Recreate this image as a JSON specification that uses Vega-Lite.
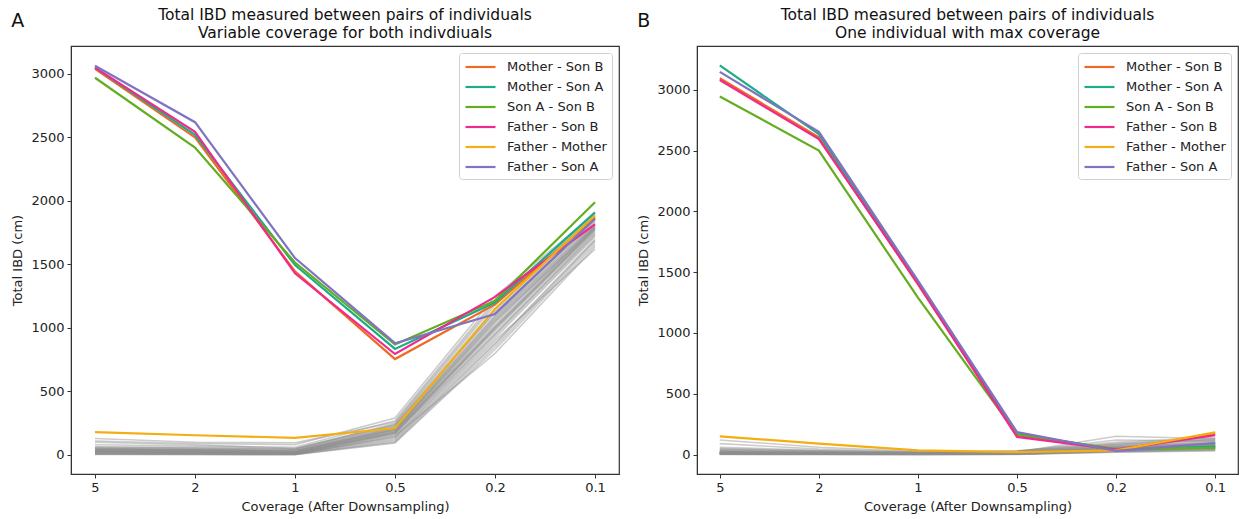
{
  "$schema": "https://vega.github.io/schema/vega-lite/v6.json",
  "padding": {"left": 11, "top": 6, "right": 2, "bottom": 2},
  "spacing": 17,
  "datasets": {
    "colA": [
      {"pair": "Mother - Son B", "c": "5", "v": 3040}, {"pair": "Mother - Son B", "c": "2", "v": 2500}, {"pair": "Mother - Son B", "c": "1", "v": 1445}, {"pair": "Mother - Son B", "c": "0.5", "v": 755}, {"pair": "Mother - Son B", "c": "0.2", "v": 1185}, {"pair": "Mother - Son B", "c": "0.1", "v": 1870},
      {"pair": "Mother - Son A", "c": "5", "v": 3050}, {"pair": "Mother - Son A", "c": "2", "v": 2520}, {"pair": "Mother - Son A", "c": "1", "v": 1495}, {"pair": "Mother - Son A", "c": "0.5", "v": 835}, {"pair": "Mother - Son A", "c": "0.2", "v": 1200}, {"pair": "Mother - Son A", "c": "0.1", "v": 1910},
      {"pair": "Son A - Son B", "c": "5", "v": 2970}, {"pair": "Son A - Son B", "c": "2", "v": 2420}, {"pair": "Son A - Son B", "c": "1", "v": 1515}, {"pair": "Son A - Son B", "c": "0.5", "v": 870}, {"pair": "Son A - Son B", "c": "0.2", "v": 1215}, {"pair": "Son A - Son B", "c": "0.1", "v": 1990},
      {"pair": "Father - Son B", "c": "5", "v": 3050}, {"pair": "Father - Son B", "c": "2", "v": 2545}, {"pair": "Father - Son B", "c": "1", "v": 1430}, {"pair": "Father - Son B", "c": "0.5", "v": 795}, {"pair": "Father - Son B", "c": "0.2", "v": 1245}, {"pair": "Father - Son B", "c": "0.1", "v": 1815},
      {"pair": "Father - Mother", "c": "5", "v": 180}, {"pair": "Father - Mother", "c": "2", "v": 155}, {"pair": "Father - Mother", "c": "1", "v": 135}, {"pair": "Father - Mother", "c": "0.5", "v": 210}, {"pair": "Father - Mother", "c": "0.2", "v": 1150}, {"pair": "Father - Mother", "c": "0.1", "v": 1885},
      {"pair": "Father - Son A", "c": "5", "v": 3065}, {"pair": "Father - Son A", "c": "2", "v": 2620}, {"pair": "Father - Son A", "c": "1", "v": 1550}, {"pair": "Father - Son A", "c": "0.5", "v": 880}, {"pair": "Father - Son A", "c": "0.2", "v": 1110}, {"pair": "Father - Son A", "c": "0.1", "v": 1860}
    ],
    "colB": [
      {"pair": "Mother - Son B", "c": "5", "v": 3095}, {"pair": "Mother - Son B", "c": "2", "v": 2608}, {"pair": "Mother - Son B", "c": "1", "v": 1400}, {"pair": "Mother - Son B", "c": "0.5", "v": 160}, {"pair": "Mother - Son B", "c": "0.2", "v": 35}, {"pair": "Mother - Son B", "c": "0.1", "v": 175},
      {"pair": "Mother - Son A", "c": "5", "v": 3200}, {"pair": "Mother - Son A", "c": "2", "v": 2635}, {"pair": "Mother - Son A", "c": "1", "v": 1420}, {"pair": "Mother - Son A", "c": "0.5", "v": 170}, {"pair": "Mother - Son A", "c": "0.2", "v": 40}, {"pair": "Mother - Son A", "c": "0.1", "v": 65},
      {"pair": "Son A - Son B", "c": "5", "v": 2945}, {"pair": "Son A - Son B", "c": "2", "v": 2500}, {"pair": "Son A - Son B", "c": "1", "v": 1290}, {"pair": "Son A - Son B", "c": "0.5", "v": 165}, {"pair": "Son A - Son B", "c": "0.2", "v": 45}, {"pair": "Son A - Son B", "c": "0.1", "v": 55},
      {"pair": "Father - Son B", "c": "5", "v": 3080}, {"pair": "Father - Son B", "c": "2", "v": 2594}, {"pair": "Father - Son B", "c": "1", "v": 1405}, {"pair": "Father - Son B", "c": "0.5", "v": 145}, {"pair": "Father - Son B", "c": "0.2", "v": 40}, {"pair": "Father - Son B", "c": "0.1", "v": 160},
      {"pair": "Father - Mother", "c": "5", "v": 150}, {"pair": "Father - Mother", "c": "2", "v": 90}, {"pair": "Father - Mother", "c": "1", "v": 35}, {"pair": "Father - Mother", "c": "0.5", "v": 20}, {"pair": "Father - Mother", "c": "0.2", "v": 35}, {"pair": "Father - Mother", "c": "0.1", "v": 182},
      {"pair": "Father - Son A", "c": "5", "v": 3147}, {"pair": "Father - Son A", "c": "2", "v": 2654}, {"pair": "Father - Son A", "c": "1", "v": 1430}, {"pair": "Father - Son A", "c": "0.5", "v": 185}, {"pair": "Father - Son A", "c": "0.2", "v": 30}, {"pair": "Father - Son A", "c": "0.1", "v": 95}
    ],
    "grayA": [
      {"s": "g1", "c": "5", "v": 10}, {"s": "g1", "c": "2", "v": 8}, {"s": "g1", "c": "1", "v": 5}, {"s": "g1", "c": "0.5", "v": 120}, {"s": "g1", "c": "0.2", "v": 880}, {"s": "g1", "c": "0.1", "v": 1700},
      {"s": "g2", "c": "5", "v": 15}, {"s": "g2", "c": "2", "v": 12}, {"s": "g2", "c": "1", "v": 8}, {"s": "g2", "c": "0.5", "v": 140}, {"s": "g2", "c": "0.2", "v": 920}, {"s": "g2", "c": "0.1", "v": 1720},
      {"s": "g3", "c": "5", "v": 20}, {"s": "g3", "c": "2", "v": 15}, {"s": "g3", "c": "1", "v": 10}, {"s": "g3", "c": "0.5", "v": 160}, {"s": "g3", "c": "0.2", "v": 950}, {"s": "g3", "c": "0.1", "v": 1750},
      {"s": "g4", "c": "5", "v": 25}, {"s": "g4", "c": "2", "v": 20}, {"s": "g4", "c": "1", "v": 12}, {"s": "g4", "c": "0.5", "v": 170}, {"s": "g4", "c": "0.2", "v": 980}, {"s": "g4", "c": "0.1", "v": 1760},
      {"s": "g5", "c": "5", "v": 30}, {"s": "g5", "c": "2", "v": 25}, {"s": "g5", "c": "1", "v": 15}, {"s": "g5", "c": "0.5", "v": 180}, {"s": "g5", "c": "0.2", "v": 1000}, {"s": "g5", "c": "0.1", "v": 1780},
      {"s": "g6", "c": "5", "v": 35}, {"s": "g6", "c": "2", "v": 30}, {"s": "g6", "c": "1", "v": 20}, {"s": "g6", "c": "0.5", "v": 190}, {"s": "g6", "c": "0.2", "v": 1020}, {"s": "g6", "c": "0.1", "v": 1790},
      {"s": "g7", "c": "5", "v": 40}, {"s": "g7", "c": "2", "v": 35}, {"s": "g7", "c": "1", "v": 25}, {"s": "g7", "c": "0.5", "v": 200}, {"s": "g7", "c": "0.2", "v": 1050}, {"s": "g7", "c": "0.1", "v": 1800},
      {"s": "g8", "c": "5", "v": 45}, {"s": "g8", "c": "2", "v": 40}, {"s": "g8", "c": "1", "v": 30}, {"s": "g8", "c": "0.5", "v": 210}, {"s": "g8", "c": "0.2", "v": 1080}, {"s": "g8", "c": "0.1", "v": 1810},
      {"s": "g9", "c": "5", "v": 50}, {"s": "g9", "c": "2", "v": 45}, {"s": "g9", "c": "1", "v": 35}, {"s": "g9", "c": "0.5", "v": 220}, {"s": "g9", "c": "0.2", "v": 1100}, {"s": "g9", "c": "0.1", "v": 1830},
      {"s": "g10", "c": "5", "v": 55}, {"s": "g10", "c": "2", "v": 50}, {"s": "g10", "c": "1", "v": 40}, {"s": "g10", "c": "0.5", "v": 230}, {"s": "g10", "c": "0.2", "v": 1130}, {"s": "g10", "c": "0.1", "v": 1850},
      {"s": "g11", "c": "5", "v": 5}, {"s": "g11", "c": "2", "v": 5}, {"s": "g11", "c": "1", "v": 3}, {"s": "g11", "c": "0.5", "v": 100}, {"s": "g11", "c": "0.2", "v": 850}, {"s": "g11", "c": "0.1", "v": 1680},
      {"s": "g12", "c": "5", "v": 60}, {"s": "g12", "c": "2", "v": 55}, {"s": "g12", "c": "1", "v": 45}, {"s": "g12", "c": "0.5", "v": 250}, {"s": "g12", "c": "0.2", "v": 1180}, {"s": "g12", "c": "0.1", "v": 1870},
      {"s": "g13", "c": "5", "v": 80}, {"s": "g13", "c": "2", "v": 70}, {"s": "g13", "c": "1", "v": 60}, {"s": "g13", "c": "0.5", "v": 270}, {"s": "g13", "c": "0.2", "v": 1220}, {"s": "g13", "c": "0.1", "v": 1890},
      {"s": "g14", "c": "5", "v": 110}, {"s": "g14", "c": "2", "v": 90}, {"s": "g14", "c": "1", "v": 80}, {"s": "g14", "c": "0.5", "v": 290}, {"s": "g14", "c": "0.2", "v": 1250}, {"s": "g14", "c": "0.1", "v": 1900},
      {"s": "g15", "c": "5", "v": 130}, {"s": "g15", "c": "2", "v": 100}, {"s": "g15", "c": "1", "v": 95}, {"s": "g15", "c": "0.5", "v": 260}, {"s": "g15", "c": "0.2", "v": 1200}, {"s": "g15", "c": "0.1", "v": 1880},
      {"s": "g16", "c": "5", "v": 12}, {"s": "g16", "c": "2", "v": 10}, {"s": "g16", "c": "1", "v": 6}, {"s": "g16", "c": "0.5", "v": 150}, {"s": "g16", "c": "0.2", "v": 800}, {"s": "g16", "c": "0.1", "v": 1640},
      {"s": "g17", "c": "5", "v": 18}, {"s": "g17", "c": "2", "v": 14}, {"s": "g17", "c": "1", "v": 9}, {"s": "g17", "c": "0.5", "v": 130}, {"s": "g17", "c": "0.2", "v": 900}, {"s": "g17", "c": "0.1", "v": 1620},
      {"s": "g18", "c": "5", "v": 22}, {"s": "g18", "c": "2", "v": 18}, {"s": "g18", "c": "1", "v": 11}, {"s": "g18", "c": "0.5", "v": 165}, {"s": "g18", "c": "0.2", "v": 960}, {"s": "g18", "c": "0.1", "v": 1740},
      {"s": "g19", "c": "5", "v": 28}, {"s": "g19", "c": "2", "v": 22}, {"s": "g19", "c": "1", "v": 14}, {"s": "g19", "c": "0.5", "v": 175}, {"s": "g19", "c": "0.2", "v": 990}, {"s": "g19", "c": "0.1", "v": 1770},
      {"s": "g20", "c": "5", "v": 32}, {"s": "g20", "c": "2", "v": 28}, {"s": "g20", "c": "1", "v": 18}, {"s": "g20", "c": "0.5", "v": 185}, {"s": "g20", "c": "0.2", "v": 1010}, {"s": "g20", "c": "0.1", "v": 1785},
      {"s": "g21", "c": "5", "v": 38}, {"s": "g21", "c": "2", "v": 32}, {"s": "g21", "c": "1", "v": 22}, {"s": "g21", "c": "0.5", "v": 195}, {"s": "g21", "c": "0.2", "v": 1040}, {"s": "g21", "c": "0.1", "v": 1795},
      {"s": "g22", "c": "5", "v": 42}, {"s": "g22", "c": "2", "v": 38}, {"s": "g22", "c": "1", "v": 28}, {"s": "g22", "c": "0.5", "v": 205}, {"s": "g22", "c": "0.2", "v": 1070}, {"s": "g22", "c": "0.1", "v": 1805},
      {"s": "g23", "c": "5", "v": 48}, {"s": "g23", "c": "2", "v": 42}, {"s": "g23", "c": "1", "v": 32}, {"s": "g23", "c": "0.5", "v": 215}, {"s": "g23", "c": "0.2", "v": 1090}, {"s": "g23", "c": "0.1", "v": 1820},
      {"s": "g24", "c": "5", "v": 8}, {"s": "g24", "c": "2", "v": 6}, {"s": "g24", "c": "1", "v": 4}, {"s": "g24", "c": "0.5", "v": 110}, {"s": "g24", "c": "0.2", "v": 870}, {"s": "g24", "c": "0.1", "v": 1690},
      {"s": "g25", "c": "5", "v": 26}, {"s": "g25", "c": "2", "v": 21}, {"s": "g25", "c": "1", "v": 13}, {"s": "g25", "c": "0.5", "v": 178}, {"s": "g25", "c": "0.2", "v": 1000}, {"s": "g25", "c": "0.1", "v": 1775},
      {"s": "g26", "c": "5", "v": 100}, {"s": "g26", "c": "2", "v": 80}, {"s": "g26", "c": "1", "v": 50}, {"s": "g26", "c": "0.5", "v": 240}, {"s": "g26", "c": "0.2", "v": 1150}, {"s": "g26", "c": "0.1", "v": 1860},
      {"s": "g27", "c": "5", "v": 3}, {"s": "g27", "c": "2", "v": 2}, {"s": "g27", "c": "1", "v": 2}, {"s": "g27", "c": "0.5", "v": 95}, {"s": "g27", "c": "0.2", "v": 830}, {"s": "g27", "c": "0.1", "v": 1660},
      {"s": "g28", "c": "5", "v": 36}, {"s": "g28", "c": "2", "v": 30}, {"s": "g28", "c": "1", "v": 24}, {"s": "g28", "c": "0.5", "v": 200}, {"s": "g28", "c": "0.2", "v": 1060}, {"s": "g28", "c": "0.1", "v": 1790},
      {"s": "g29", "c": "5", "v": 14}, {"s": "g29", "c": "2", "v": 12}, {"s": "g29", "c": "1", "v": 7}, {"s": "g29", "c": "0.5", "v": 145}, {"s": "g29", "c": "0.2", "v": 940}, {"s": "g29", "c": "0.1", "v": 1730},
      {"s": "g30", "c": "5", "v": 65}, {"s": "g30", "c": "2", "v": 60}, {"s": "g30", "c": "1", "v": 48}, {"s": "g30", "c": "0.5", "v": 235}, {"s": "g30", "c": "0.2", "v": 1120}, {"s": "g30", "c": "0.1", "v": 1840}
    ],
    "grayB": [
      {"s": "g1", "c": "5", "v": 0}, {"s": "g1", "c": "2", "v": 0}, {"s": "g1", "c": "1", "v": 0}, {"s": "g1", "c": "0.5", "v": 0}, {"s": "g1", "c": "0.2", "v": 20}, {"s": "g1", "c": "0.1", "v": 30},
      {"s": "g2", "c": "5", "v": 2}, {"s": "g2", "c": "2", "v": 1}, {"s": "g2", "c": "1", "v": 1}, {"s": "g2", "c": "0.5", "v": 2}, {"s": "g2", "c": "0.2", "v": 25}, {"s": "g2", "c": "0.1", "v": 40},
      {"s": "g3", "c": "5", "v": 5}, {"s": "g3", "c": "2", "v": 3}, {"s": "g3", "c": "1", "v": 2}, {"s": "g3", "c": "0.5", "v": 4}, {"s": "g3", "c": "0.2", "v": 30}, {"s": "g3", "c": "0.1", "v": 50},
      {"s": "g4", "c": "5", "v": 8}, {"s": "g4", "c": "2", "v": 5}, {"s": "g4", "c": "1", "v": 3}, {"s": "g4", "c": "0.5", "v": 6}, {"s": "g4", "c": "0.2", "v": 35}, {"s": "g4", "c": "0.1", "v": 55},
      {"s": "g5", "c": "5", "v": 10}, {"s": "g5", "c": "2", "v": 6}, {"s": "g5", "c": "1", "v": 4}, {"s": "g5", "c": "0.5", "v": 8}, {"s": "g5", "c": "0.2", "v": 40}, {"s": "g5", "c": "0.1", "v": 60},
      {"s": "g6", "c": "5", "v": 12}, {"s": "g6", "c": "2", "v": 8}, {"s": "g6", "c": "1", "v": 5}, {"s": "g6", "c": "0.5", "v": 10}, {"s": "g6", "c": "0.2", "v": 45}, {"s": "g6", "c": "0.1", "v": 70},
      {"s": "g7", "c": "5", "v": 15}, {"s": "g7", "c": "2", "v": 10}, {"s": "g7", "c": "1", "v": 6}, {"s": "g7", "c": "0.5", "v": 12}, {"s": "g7", "c": "0.2", "v": 50}, {"s": "g7", "c": "0.1", "v": 75},
      {"s": "g8", "c": "5", "v": 18}, {"s": "g8", "c": "2", "v": 12}, {"s": "g8", "c": "1", "v": 7}, {"s": "g8", "c": "0.5", "v": 14}, {"s": "g8", "c": "0.2", "v": 55}, {"s": "g8", "c": "0.1", "v": 80},
      {"s": "g9", "c": "5", "v": 20}, {"s": "g9", "c": "2", "v": 14}, {"s": "g9", "c": "1", "v": 8}, {"s": "g9", "c": "0.5", "v": 15}, {"s": "g9", "c": "0.2", "v": 60}, {"s": "g9", "c": "0.1", "v": 90},
      {"s": "g10", "c": "5", "v": 25}, {"s": "g10", "c": "2", "v": 16}, {"s": "g10", "c": "1", "v": 9}, {"s": "g10", "c": "0.5", "v": 18}, {"s": "g10", "c": "0.2", "v": 65}, {"s": "g10", "c": "0.1", "v": 95},
      {"s": "g11", "c": "5", "v": 30}, {"s": "g11", "c": "2", "v": 18}, {"s": "g11", "c": "1", "v": 10}, {"s": "g11", "c": "0.5", "v": 20}, {"s": "g11", "c": "0.2", "v": 70}, {"s": "g11", "c": "0.1", "v": 100},
      {"s": "g12", "c": "5", "v": 35}, {"s": "g12", "c": "2", "v": 20}, {"s": "g12", "c": "1", "v": 12}, {"s": "g12", "c": "0.5", "v": 22}, {"s": "g12", "c": "0.2", "v": 75}, {"s": "g12", "c": "0.1", "v": 110},
      {"s": "g13", "c": "5", "v": 40}, {"s": "g13", "c": "2", "v": 25}, {"s": "g13", "c": "1", "v": 14}, {"s": "g13", "c": "0.5", "v": 25}, {"s": "g13", "c": "0.2", "v": 80}, {"s": "g13", "c": "0.1", "v": 120},
      {"s": "g14", "c": "5", "v": 50}, {"s": "g14", "c": "2", "v": 30}, {"s": "g14", "c": "1", "v": 16}, {"s": "g14", "c": "0.5", "v": 28}, {"s": "g14", "c": "0.2", "v": 90}, {"s": "g14", "c": "0.1", "v": 130},
      {"s": "g15", "c": "5", "v": 60}, {"s": "g15", "c": "2", "v": 35}, {"s": "g15", "c": "1", "v": 18}, {"s": "g15", "c": "0.5", "v": 30}, {"s": "g15", "c": "0.2", "v": 100}, {"s": "g15", "c": "0.1", "v": 140},
      {"s": "g16", "c": "5", "v": 90}, {"s": "g16", "c": "2", "v": 45}, {"s": "g16", "c": "1", "v": 20}, {"s": "g16", "c": "0.5", "v": 25}, {"s": "g16", "c": "0.2", "v": 120}, {"s": "g16", "c": "0.1", "v": 110},
      {"s": "g17", "c": "5", "v": 3}, {"s": "g17", "c": "2", "v": 2}, {"s": "g17", "c": "1", "v": 1}, {"s": "g17", "c": "0.5", "v": 3}, {"s": "g17", "c": "0.2", "v": 28}, {"s": "g17", "c": "0.1", "v": 45},
      {"s": "g18", "c": "5", "v": 6}, {"s": "g18", "c": "2", "v": 4}, {"s": "g18", "c": "1", "v": 2}, {"s": "g18", "c": "0.5", "v": 5}, {"s": "g18", "c": "0.2", "v": 32}, {"s": "g18", "c": "0.1", "v": 52},
      {"s": "g19", "c": "5", "v": 9}, {"s": "g19", "c": "2", "v": 5}, {"s": "g19", "c": "1", "v": 3}, {"s": "g19", "c": "0.5", "v": 7}, {"s": "g19", "c": "0.2", "v": 38}, {"s": "g19", "c": "0.1", "v": 58},
      {"s": "g20", "c": "5", "v": 11}, {"s": "g20", "c": "2", "v": 7}, {"s": "g20", "c": "1", "v": 4}, {"s": "g20", "c": "0.5", "v": 9}, {"s": "g20", "c": "0.2", "v": 42}, {"s": "g20", "c": "0.1", "v": 65},
      {"s": "g21", "c": "5", "v": 14}, {"s": "g21", "c": "2", "v": 9}, {"s": "g21", "c": "1", "v": 5}, {"s": "g21", "c": "0.5", "v": 11}, {"s": "g21", "c": "0.2", "v": 48}, {"s": "g21", "c": "0.1", "v": 72},
      {"s": "g22", "c": "5", "v": 16}, {"s": "g22", "c": "2", "v": 11}, {"s": "g22", "c": "1", "v": 6}, {"s": "g22", "c": "0.5", "v": 13}, {"s": "g22", "c": "0.2", "v": 52}, {"s": "g22", "c": "0.1", "v": 78},
      {"s": "g23", "c": "5", "v": 22}, {"s": "g23", "c": "2", "v": 13}, {"s": "g23", "c": "1", "v": 7}, {"s": "g23", "c": "0.5", "v": 14}, {"s": "g23", "c": "0.2", "v": 58}, {"s": "g23", "c": "0.1", "v": 85},
      {"s": "g24", "c": "5", "v": 27}, {"s": "g24", "c": "2", "v": 15}, {"s": "g24", "c": "1", "v": 8}, {"s": "g24", "c": "0.5", "v": 16}, {"s": "g24", "c": "0.2", "v": 62}, {"s": "g24", "c": "0.1", "v": 92},
      {"s": "g25", "c": "5", "v": 4}, {"s": "g25", "c": "2", "v": 2}, {"s": "g25", "c": "1", "v": 1}, {"s": "g25", "c": "0.5", "v": 3}, {"s": "g25", "c": "0.2", "v": 22}, {"s": "g25", "c": "0.1", "v": 35},
      {"s": "g26", "c": "5", "v": 7}, {"s": "g26", "c": "2", "v": 4}, {"s": "g26", "c": "1", "v": 2}, {"s": "g26", "c": "0.5", "v": 5}, {"s": "g26", "c": "0.2", "v": 27}, {"s": "g26", "c": "0.1", "v": 42},
      {"s": "g27", "c": "5", "v": 13}, {"s": "g27", "c": "2", "v": 9}, {"s": "g27", "c": "1", "v": 5}, {"s": "g27", "c": "0.5", "v": 10}, {"s": "g27", "c": "0.2", "v": 44}, {"s": "g27", "c": "0.1", "v": 68},
      {"s": "g28", "c": "5", "v": 19}, {"s": "g28", "c": "2", "v": 12}, {"s": "g28", "c": "1", "v": 7}, {"s": "g28", "c": "0.5", "v": 13}, {"s": "g28", "c": "0.2", "v": 54}, {"s": "g28", "c": "0.1", "v": 82},
      {"s": "g29", "c": "5", "v": 120}, {"s": "g29", "c": "2", "v": 60}, {"s": "g29", "c": "1", "v": 25}, {"s": "g29", "c": "0.5", "v": 20}, {"s": "g29", "c": "0.2", "v": 150}, {"s": "g29", "c": "0.1", "v": 130},
      {"s": "g30", "c": "5", "v": 45}, {"s": "g30", "c": "2", "v": 28}, {"s": "g30", "c": "1", "v": 15}, {"s": "g30", "c": "0.5", "v": 26}, {"s": "g30", "c": "0.2", "v": 85}, {"s": "g30", "c": "0.1", "v": 125}
    ]
  },
  "hconcat": [
    {
      "title": {"text": "A", "anchor": "start", "fontSize": 19, "offset": -24, "frame": "bounds"},
      "resolve": {"scale": {"color": "independent"}, "legend": {"color": "independent"}},
      "hconcat": [
        {
          "title": {"text": ["Total IBD measured between pairs of individuals", "Variable coverage for both indivdiuals"], "anchor": "middle", "offset": 5},
          "width": 548,
          "height": 428,
          "layer": [
            {
              "data": {"name": "grayA"},
              "mark": {"type": "line", "color": "#8f8f8f", "opacity": 0.45, "strokeWidth": 1.6},
              "encoding": {
                "x": {"field": "c", "type": "ordinal", "sort": ["5", "2", "1", "0.5", "0.2", "0.1"], "scale": {"type": "point", "padding": 0.24}, "axis": {"title": "Coverage (After Downsampling)", "labelAngle": 0}},
                "y": {"field": "v", "type": "quantitative", "scale": {"domain": [-150, 3220], "nice": false, "zero": false}, "axis": {"title": "Total IBD (cm)", "format": "d", "values": [0, 500, 1000, 1500, 2000, 2500, 3000]}},
                "detail": {"field": "s"}
              }
            },
            {
              "data": {"name": "colA"},
              "mark": {"type": "line", "strokeWidth": 2.2},
              "encoding": {
                "x": {"field": "c", "type": "ordinal", "sort": ["5", "2", "1", "0.5", "0.2", "0.1"]},
                "y": {"field": "v", "type": "quantitative"},
                "color": {"field": "pair", "type": "nominal", "sort": null, "scale": {"domain": ["Mother - Son B", "Mother - Son A", "Son A - Son B", "Father - Son B", "Father - Mother", "Father - Son A"], "range": ["#ee6a22", "#1cac88", "#62ad20", "#f02a8c", "#f2ae12", "#7f74c0"]}}
              }
            }
          ]
        }
      ]
    },
    {
      "title": {"text": "B", "anchor": "start", "fontSize": 19, "offset": -24, "frame": "bounds"},
      "resolve": {"scale": {"color": "independent"}, "legend": {"color": "independent"}},
      "hconcat": [
        {
          "title": {"text": ["Total IBD measured between pairs of individuals", "One individual with max coverage"], "anchor": "middle", "offset": 5},
          "width": 541,
          "height": 428,
          "layer": [
            {
              "data": {"name": "grayB"},
              "mark": {"type": "line", "color": "#8f8f8f", "opacity": 0.45, "strokeWidth": 1.6},
              "encoding": {
                "x": {"field": "c", "type": "ordinal", "sort": ["5", "2", "1", "0.5", "0.2", "0.1"], "scale": {"type": "point", "padding": 0.23}, "axis": {"title": "Coverage (After Downsampling)", "labelAngle": 0}},
                "y": {"field": "v", "type": "quantitative", "scale": {"domain": [-160, 3360], "nice": false, "zero": false}, "axis": {"title": "Total IBD (cm)", "format": "d", "values": [0, 500, 1000, 1500, 2000, 2500, 3000]}},
                "detail": {"field": "s"}
              }
            },
            {
              "data": {"name": "colB"},
              "mark": {"type": "line", "strokeWidth": 2.2},
              "encoding": {
                "x": {"field": "c", "type": "ordinal", "sort": ["5", "2", "1", "0.5", "0.2", "0.1"]},
                "y": {"field": "v", "type": "quantitative"},
                "color": {"field": "pair", "type": "nominal", "sort": null, "scale": {"domain": ["Mother - Son B", "Mother - Son A", "Son A - Son B", "Father - Son B", "Father - Mother", "Father - Son A"], "range": ["#ee6a22", "#1cac88", "#62ad20", "#f02a8c", "#f2ae12", "#7f74c0"]}}
              }
            }
          ]
        }
      ]
    }
  ],
  "resolve": {"scale": {"color": "independent"}, "legend": {"color": "independent"}},
  "config": {
    "font": "DejaVu Sans",
    "view": {"stroke": "#333333", "strokeWidth": 1.2},
    "axis": {"grid": false, "domainColor": "#333333", "tickColor": "#333333", "labelColor": "#222222", "titleColor": "#222222", "labelFontSize": 13, "titleFontSize": 13, "titleFontWeight": "normal", "tickSize": 4, "labelPadding": 3, "titlePadding": 6},
    "title": {"fontSize": 15.5, "fontWeight": "normal", "color": "#111111", "lineHeight": 18},
    "legend": {"orient": "top-right", "offset": 7, "title": null, "strokeColor": "#d0d0d0", "cornerRadius": 3, "fillColor": "white", "padding": 5, "labelFontSize": 13, "labelColor": "#222222", "symbolType": "M-1,0H3", "symbolSize": 225, "symbolStrokeWidth": 2.2, "rowPadding": 4, "labelOffset": 25}
  }
}
